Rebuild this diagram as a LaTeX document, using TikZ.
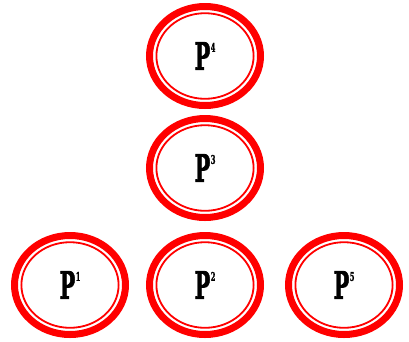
\documentclass[tikz,border=0pt]{standalone}
\usepackage{fontspec}
\usetikzlibrary{shapes.geometric}
\newfontfamily\pfont[FakeBold=2]{DejaVu Serif Bold}
\newcommand{\plabel}[1]{\scalebox{0.55}[1]{\pfont\fontsize{38}{38}\selectfont P\hspace{1pt}\raisebox{18pt}{\fontsize{12}{12}\selectfont #1}}}
\tikzset{
  ring/.style={ellipse, draw=red, line width=7pt, minimum width=111pt, minimum height=99pt, inner sep=0pt, outer sep=0pt},
  innerring/.style={draw=red, line width=1.8pt}
}
\begin{document}
\begin{tikzpicture}[x=1pt,y=-1pt]
\useasboundingbox (0,0) rectangle (409,341);
\node[ring] (p4) at (205,56) {\plabel{4}};
\node[ring] (p3) at (205,168) {\plabel{3}};
\node[ring] (p1) at (70,285) {\plabel{1}};
\node[ring] (p2) at (205,285) {\plabel{2}};
\node[ring] (p5) at (344,285) {\plabel{5}};
\foreach \n in {p4,p3,p1,p2,p5}{
  \draw[innerring] (\n.center) ellipse [x radius=48.6pt, y radius=42.8pt];
}
\end{tikzpicture}
\end{document}
